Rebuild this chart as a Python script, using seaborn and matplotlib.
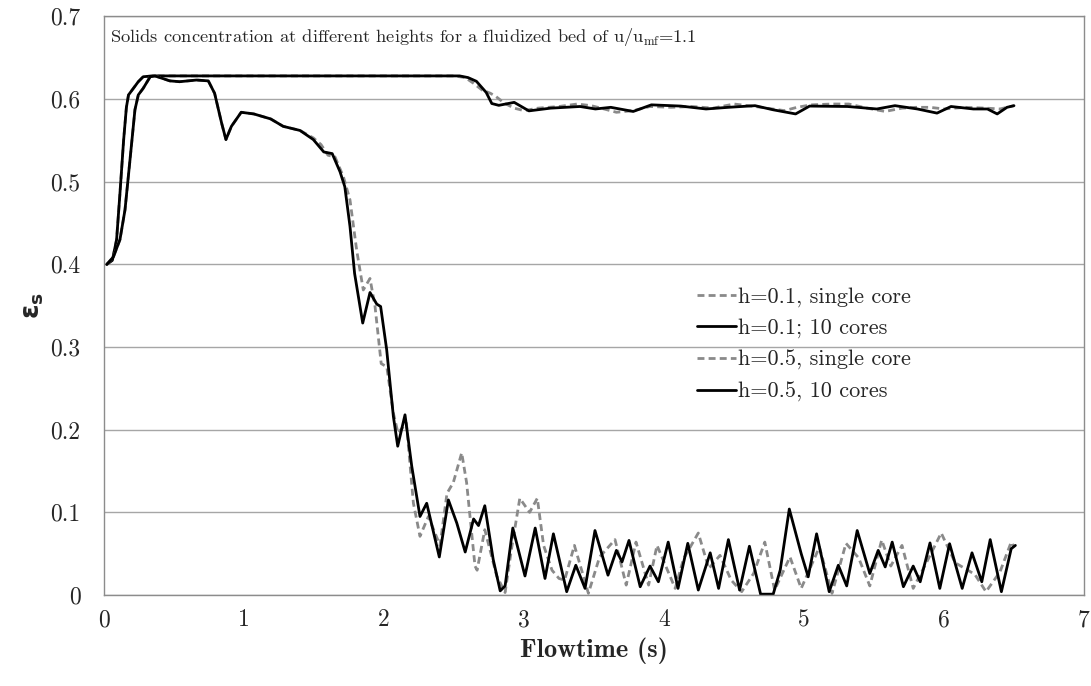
import numpy as np
import pandas as pd
import matplotlib
matplotlib.use("Agg")
import matplotlib.pyplot as plt
import seaborn as sns
from matplotlib.ticker import FixedLocator, FixedFormatter

# ---------------- data ----------------
title_text = r"Solids concentration at different heights for a fluidized bed of u/u$_{\mathrm{mf}}$=1.1"
x_label = "Flowtime (s)"
y_ticks = [0, 0.1, 0.2, 0.3, 0.4, 0.5, 0.6, 0.7]
y_tick_labels = ["0", "0.1", "0.2", "0.3", "0.4", "0.5", "0.6", "0.7"]
x_ticks = [0, 1, 2, 3, 4, 5, 6, 7]
series_names = ["h=0.1, single core", "h=0.1; 10 cores", "h=0.5, single core", "h=0.5, 10 cores"]

t_h01_1 = [0.02, 0.06, 0.09, 0.114, 0.14, 0.16, 0.175, 0.21, 0.245, 0.28, 0.35, 0.6, 1.0, 1.5, 2.0, 2.5,
           2.58, 2.64, 2.70, 2.76, 2.80, 2.86, 2.93, 3.00, 3.10, 3.25, 3.38, 3.48, 3.55, 3.66, 3.78, 3.90,
           4.05, 4.20, 4.35, 4.50, 4.65, 4.86, 4.95, 5.05, 5.20, 5.32, 5.45, 5.58, 5.70, 5.80, 5.90, 6.00,
           6.15, 6.30, 6.40, 6.50]
v_h01_1 = [0.400, 0.405, 0.430, 0.486, 0.550, 0.590, 0.605, 0.613, 0.621, 0.627, 0.628, 0.628, 0.628, 0.628, 0.628, 0.628,
           0.626, 0.619, 0.611, 0.607, 0.603, 0.595, 0.589, 0.586, 0.589, 0.591, 0.594, 0.592, 0.589, 0.584, 0.586, 0.591,
           0.590, 0.591, 0.589, 0.594, 0.591, 0.586, 0.590, 0.593, 0.594, 0.594, 0.589, 0.585, 0.589, 0.590, 0.590, 0.588,
           0.590, 0.589, 0.588, 0.592]

t_h01_10 = [0.02, 0.06, 0.09, 0.114, 0.14, 0.16, 0.175, 0.21, 0.245, 0.28, 0.35, 0.6, 1.0, 1.5, 2.0, 2.54,
            2.60, 2.66, 2.73, 2.77, 2.82, 2.93, 3.035, 3.19, 3.40, 3.51, 3.62, 3.78, 3.91, 4.12, 4.30, 4.46,
            4.65, 4.78, 4.94, 5.04, 5.31, 5.52, 5.65, 5.81, 5.95, 6.05, 6.21, 6.31, 6.38, 6.45, 6.50]
v_h01_10 = [0.400, 0.405, 0.430, 0.486, 0.550, 0.590, 0.605, 0.613, 0.621, 0.627, 0.628, 0.628, 0.628, 0.628, 0.628, 0.628,
            0.626, 0.6215, 0.608, 0.5946, 0.5924, 0.596, 0.5857, 0.589, 0.591, 0.588, 0.590, 0.585, 0.593, 0.5915, 0.588, 0.590,
            0.592, 0.587, 0.582, 0.5915, 0.591, 0.588, 0.592, 0.588, 0.583, 0.591, 0.588, 0.588, 0.582, 0.590, 0.592]

t_h05_1 = [0.02, 0.067, 0.114, 0.15, 0.186, 0.221, 0.245, 0.28, 0.33, 0.364, 0.47, 0.54, 0.66, 0.745, 0.79, 0.84,
           0.871, 0.91, 0.98, 1.07, 1.19, 1.28, 1.40, 1.495, 1.55, 1.60, 1.65, 1.71, 1.757, 1.805, 1.852, 1.90,
           1.936, 1.98, 2.02, 2.067, 2.10, 2.16, 2.21, 2.257, 2.317, 2.40, 2.45, 2.495, 2.555, 2.59, 2.65, 2.665,
           2.72, 2.805, 2.865, 2.91, 2.97, 3.04, 3.095, 3.14, 3.20, 3.25, 3.29, 3.36, 3.46, 3.54, 3.65, 3.73,
           3.80, 3.89, 3.95, 4.08, 4.14, 4.245, 4.32, 4.40, 4.48, 4.555, 4.64, 4.72, 4.79, 4.90, 4.98, 5.11,
           5.20, 5.30, 5.39, 5.47, 5.555, 5.62, 5.70, 5.78, 5.88, 5.98, 6.08, 6.14, 6.22, 6.30, 6.40, 6.48, 6.50]
v_h05_1 = [0.400, 0.409, 0.430, 0.466, 0.527, 0.587, 0.605, 0.613, 0.627, 0.628, 0.622, 0.621, 0.623, 0.622, 0.607, 0.571,
           0.551, 0.567, 0.584, 0.582, 0.576, 0.567, 0.562, 0.553, 0.545, 0.532, 0.530, 0.506, 0.478, 0.417, 0.369, 0.383,
           0.349, 0.280, 0.276, 0.220, 0.196, 0.208, 0.111, 0.071, 0.095, 0.060, 0.123, 0.136, 0.172, 0.136, 0.035, 0.030,
           0.079, 0.023, 0.003, 0.055, 0.117, 0.100, 0.117, 0.060, 0.030, 0.020, 0.018, 0.060, 0.002, 0.046, 0.067, 0.012,
           0.064, 0.012, 0.060, 0.008, 0.044, 0.075, 0.032, 0.048, 0.018, 0.004, 0.026, 0.064, 0.006, 0.046, 0.008, 0.058,
           0.002, 0.0625, 0.045, 0.011, 0.0665, 0.035, 0.060, 0.008, 0.041, 0.075, 0.039, 0.033, 0.025, 0.004, 0.028, 0.064, 0.058]

t_h05_10 = [0.02, 0.067, 0.114, 0.15, 0.186, 0.221, 0.245, 0.28, 0.33, 0.364, 0.47, 0.54, 0.66, 0.745, 0.79, 0.84,
            0.871, 0.91, 0.98, 1.07, 1.19, 1.28, 1.40, 1.495, 1.57, 1.63, 1.686, 1.72, 1.757, 1.79, 1.848, 1.90,
            1.948, 1.976, 2.019, 2.067, 2.098, 2.15, 2.198, 2.257, 2.305, 2.395, 2.46, 2.52, 2.58, 2.64, 2.675, 2.72,
            2.78, 2.83, 2.865, 2.92, 3.007, 3.08, 3.15, 3.21, 3.305, 3.37, 3.436, 3.507, 3.60, 3.66, 3.70, 3.75,
            3.83, 3.90, 3.96, 4.03, 4.10, 4.17, 4.245, 4.33, 4.39, 4.46, 4.54, 4.61, 4.69, 4.78, 4.83, 4.895,
            4.98, 5.03, 5.09, 5.18, 5.245, 5.305, 5.38, 5.47, 5.53, 5.58, 5.63, 5.71, 5.78, 5.83, 5.90, 5.97,
            6.04, 6.13, 6.20, 6.27, 6.33, 6.41, 6.48, 6.51]
v_h05_10 = [0.400, 0.409, 0.430, 0.466, 0.527, 0.587, 0.605, 0.613, 0.627, 0.628, 0.622, 0.621, 0.623, 0.622, 0.607, 0.571,
            0.551, 0.567, 0.584, 0.582, 0.576, 0.567, 0.562, 0.551, 0.536, 0.534, 0.512, 0.494, 0.446, 0.389, 0.329, 0.366,
            0.352, 0.349, 0.297, 0.216, 0.180, 0.218, 0.156, 0.095, 0.111, 0.046, 0.115, 0.087, 0.052, 0.092, 0.084, 0.108,
            0.043, 0.005, 0.011, 0.081, 0.023, 0.081, 0.020, 0.074, 0.004, 0.036, 0.008, 0.078, 0.024, 0.054, 0.040, 0.066,
            0.010, 0.035, 0.016, 0.064, 0.008, 0.0625, 0.006, 0.051, 0.008, 0.067, 0.006, 0.059, 0.001, 0.001, 0.030, 0.104,
            0.050, 0.022, 0.074, 0.004, 0.036, 0.011, 0.078, 0.026, 0.054, 0.034, 0.064, 0.010, 0.035, 0.016, 0.063, 0.008,
            0.062, 0.008, 0.051, 0.016, 0.067, 0.004, 0.056, 0.060]

# ---------------- style ----------------
sns.set_style("white")
plt.rcParams["font.family"] = ["cmr10", "DejaVu Serif"]
plt.rcParams["mathtext.fontset"] = "custom"
plt.rcParams["mathtext.rm"] = "cmr10"
plt.rcParams["mathtext.bf"] = "DejaVu Sans:bold"
plt.rcParams["axes.formatter.use_mathtext"] = True

fig = plt.figure(figsize=(10.91, 6.86), dpi=100)
ax = fig.add_axes([104 / 1091, 1 - 595 / 686, 980 / 1091, (595 - 16.4) / 686])

gray = "#8a8a8a"
lw = 2.0
styles = [
    dict(color=gray, linestyle=(0, (2.5, 1.5)), linewidth=lw),
    dict(color="black", linestyle="-", linewidth=lw),
    dict(color=gray, linestyle=(0, (2.5, 1.5)), linewidth=lw),
    dict(color="black", linestyle="-", linewidth=lw),
]
data = [(t_h01_1, v_h01_1), (t_h01_10, v_h01_10), (t_h05_1, v_h05_1), (t_h05_10, v_h05_10)]
for (tt, vv), name, st in zip(data, series_names, styles):
    sns.lineplot(x=tt, y=vv, ax=ax, label=name, estimator=None, sort=True, **st)

ax.set_xlim(0, 7)
ax.set_ylim(0, 0.7)
ax.xaxis.set_major_locator(FixedLocator(x_ticks))
ax.yaxis.set_major_locator(FixedLocator(y_ticks))
ax.yaxis.set_major_formatter(FixedFormatter(y_tick_labels))
ax.set_xticklabels([str(v) for v in x_ticks])
ax.tick_params(axis="y", length=0, pad=17, labelsize=17)
ax.tick_params(axis="x", length=0, pad=10, labelsize=17)
ax.grid(axis="y", color="#a6a6a6", linewidth=1.0)
ax.grid(axis="x", visible=False)
for sp in ax.spines.values():
    sp.set_color("#8c8c8c")
    sp.set_linewidth(1.0)

ax.set_xlabel(x_label, fontfamily="cmb10", fontsize=19, labelpad=5)
ax.set_ylabel("ε$_{\\mathbf{s}}$", fontfamily="DejaVu Sans", fontweight="bold", fontsize=19, labelpad=3)

ax.text(0.006, 0.984, title_text, transform=ax.transAxes, ha="left", va="top", fontsize=13.3)

ax.legend(loc="center left", bbox_to_anchor=(0.605, 0.433), frameon=False, borderpad=0,
          borderaxespad=0, handlelength=1.75, handletextpad=0.12, labelspacing=0.53, fontsize=16)

fig.savefig("out.png", dpi=100)
